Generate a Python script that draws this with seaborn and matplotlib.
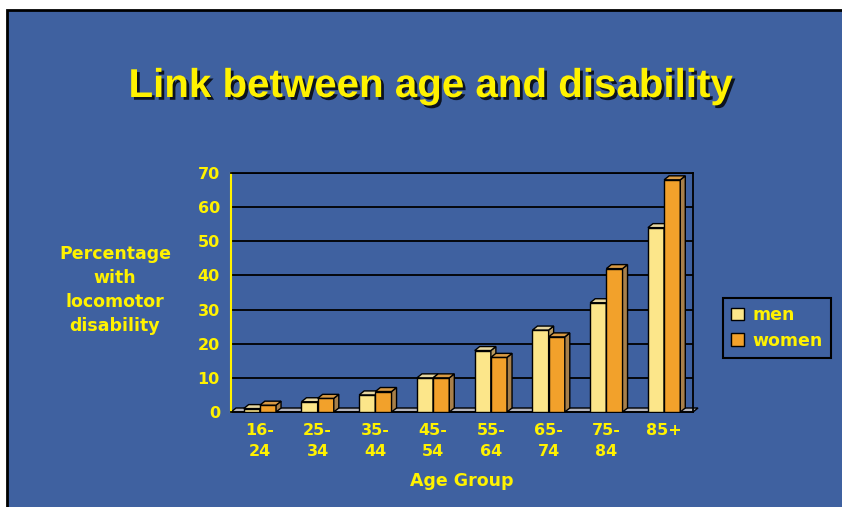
import matplotlib
matplotlib.use("Agg")
import matplotlib.pyplot as plt
import matplotlib.patheffects as pe
from matplotlib.patches import Rectangle, Polygon
import pandas as pd
import seaborn as sns

age_groups = ["16-\n24", "25-\n34", "35-\n44", "45-\n54", "55-\n64", "65-\n74", "75-\n84", "85+\n"]
men = [1, 3, 5, 10, 18, 24, 32, 54]
women = [2, 4, 6, 10, 16, 22, 42, 68]
series = ["men", "women"]
y_ticks = [0, 10, 20, 30, 40, 50, 60, 70]

blue = "#3F61A0"
yellow = "#FFF200"
face_colors = {"men": "#FCE68A", "women": "#F2A12B"}
top_colors = {"men": "#E6D6A0", "women": "#D99B45"}
side_colors = {"men": "#B89A60", "women": "#A8804A"}

df = pd.DataFrame({
    "age": age_groups * 2,
    "pct": men + women,
    "sex": [series[0]] * len(men) + [series[1]] * len(women),
})

sns.set_style("white")
plt.rcParams["font.family"] = ["DejaVu Sans"]

fig = plt.figure(figsize=(8.42, 5.07), dpi=100)
fig.patch.set_facecolor("white")
fig.patches.append(Rectangle((7 / 842, -0.02), 1.0, 1 - 10 / 507 + 0.02, transform=fig.transFigure,
                             facecolor=blue, edgecolor="black", linewidth=2, zorder=-5))

ax = fig.add_axes([231 / 842, 1 - 412 / 507, (693 - 231) / 842, (412 - 173) / 507])
ax.set_facecolor(blue)
sns.barplot(data=df, x="age", y="pct", hue="sex", hue_order=series,
            palette=[face_colors[s] for s in series], width=0.56,
            edgecolor="black", linewidth=1, saturation=1, ax=ax)
handles, labels = ax.get_legend_handles_labels()
ax.get_legend().remove()

ax.set_xlim(-0.5, len(age_groups) - 0.5)
ax.set_ylim(0, 70)

# 3D look: depth offset in pixels converted to data units
bbox = ax.get_window_extent()
dx = 5 * len(age_groups) / bbox.width
dy = 4 * 70 / bbox.height

bars = [p for p in ax.patches if isinstance(p, Rectangle) and p.get_width() > 0]
bars.sort(key=lambda p: p.get_x())
for i, p in enumerate(bars):
    x0, w, h = p.get_x(), p.get_width(), p.get_height()
    key = "men" if p.get_facecolor()[2] > 0.4 else "women"
    z = 3 + i * 0.01
    p.set_zorder(z)
    side = Polygon([(x0 + w, 0), (x0 + w + dx, dy), (x0 + w + dx, h + dy), (x0 + w, h)],
                   closed=True, facecolor=side_colors[key], edgecolor="black", linewidth=1, zorder=z + 0.003)
    top = Polygon([(x0, h), (x0 + w, h), (x0 + w + dx, h + dy), (x0 + dx, h + dy)],
                  closed=True, facecolor=top_colors[key], edgecolor="black", linewidth=1, zorder=z + 0.006)
    ax.add_patch(side)
    ax.add_patch(top)

# floor
floor = Polygon([(-0.5, 0), (len(age_groups) - 0.5, 0), (len(age_groups) - 0.5 + dx, dy), (-0.5 + dx, dy)],
                closed=True, facecolor="#B4B4BC", edgecolor="black", linewidth=1, zorder=2, clip_on=False)
ax.add_patch(floor)

ax.set_yticks(y_ticks)
ax.yaxis.grid(True, color="black", linewidth=1.3)
ax.set_axisbelow(True)
for s in ["top", "right", "bottom"]:
    ax.spines[s].set_color("black")
    ax.spines[s].set_linewidth(1.3)
ax.spines["left"].set_color(yellow)
ax.spines["left"].set_linewidth(1.5)
ax.tick_params(axis="y", colors=yellow, length=4, width=1.2, labelsize=11.5, pad=4)
ax.tick_params(axis="x", colors=yellow, length=0, labelsize=11.5, pad=8)
ax.set_xticks(range(len(age_groups)), age_groups, linespacing=1.45)
ax.set_xticks([i - 0.5 for i in range(len(age_groups) + 1)], minor=True)
ax.tick_params(axis="x", which="minor", color="black", length=4, width=1)
for lab in ax.get_xticklabels() + ax.get_yticklabels():
    lab.set_fontweight("bold")
    lab.set_color(yellow)
ax.set_xlabel("")
ax.set_ylabel("")

fig.text(430 / 842, 1 - 86 / 507, "Link between age and disability", ha="center", va="center",
         fontsize=29, fontweight="bold", color=yellow,
         family=["Liberation Sans Narrow", "Liberation Sans", "DejaVu Sans"],
         path_effects=[pe.withSimplePatchShadow(offset=(2, -2), shadow_rgbFace="black", alpha=0.8)])

fig.text(115 / 842, 1 - 290 / 507, "Percentage\nwith\nlocomotor\ndisability", ha="center", va="center",
         fontsize=12.5, fontweight="bold", color=yellow, linespacing=1.45)
fig.text(462 / 842, 1 - 481 / 507, "Age Group", ha="center", va="center",
         fontsize=12.5, fontweight="bold", color=yellow)

leg = ax.legend(handles, labels, loc="center", bbox_to_anchor=(777 / 842, 1 - 328 / 507),
                bbox_transform=fig.transFigure, frameon=True, fancybox=False,
                facecolor=blue, edgecolor="black", framealpha=1,
                handlelength=0.75, handleheight=0.75, handletextpad=0.5, borderpad=0.45,
                labelspacing=0.45, prop={"weight": "bold", "size": 12.5})
leg.get_frame().set_linewidth(1.5)
for t in leg.get_texts():
    t.set_color(yellow)

fig.savefig("out.png", dpi=100)
